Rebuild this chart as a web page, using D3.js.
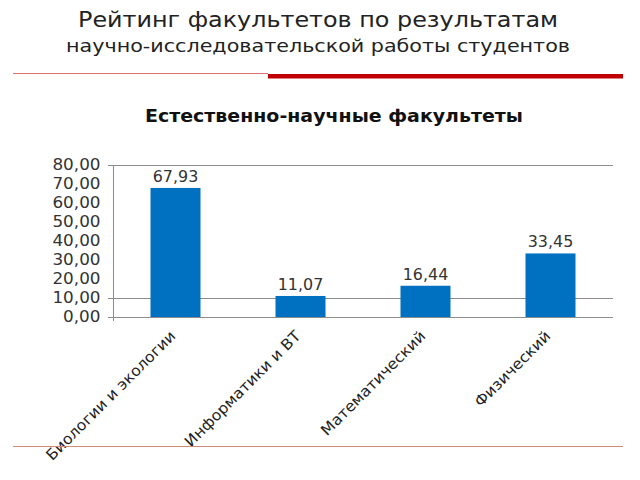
<!DOCTYPE html>
<html>
<head>
<meta charset="utf-8">
<script src="https://cdn.jsdelivr.net/npm/d3@7"></script>
<style>
  body { margin: 0; background: #fff; }
  text { font-family: "DejaVu Sans", Verdana, sans-serif; }
</style>
</head>
<body>
<div class="chart"></div>
<script>
const faculties = ["Биологии и экологии", "Информатики и ВТ", "Математический", "Физический"];
const scores = [67.93, 11.07, 16.44, 33.45];
const yTicks = [0, 10, 20, 30, 40, 50, 60, 70, 80];
const gridValues = [0, 10, 80];

const w = 640;
const h = 480;
const fmt = v => d3.format(".2f")(v).replace(".", ",");

// the original font is a bit wider than DejaVu
const stretch = k => function() {
    d3.select(this)
        .attr("textLength", this.getComputedTextLength() * k)
        .attr("lengthAdjust", "spacingAndGlyphs");
};

const svg = d3.select(".chart")
    .append("svg")
    .attr("width", w)
    .attr("height", h);

// header
svg.append("text")
    .attr("x", 318).attr("y", 27)
    .attr("text-anchor", "middle")
    .attr("font-size", 21)
    .attr("fill", "#222")
    .attr("textLength", 480).attr("lengthAdjust", "spacingAndGlyphs")
    .text("Рейтинг факультетов по результатам");

svg.append("text")
    .attr("x", 318).attr("y", 52)
    .attr("text-anchor", "middle")
    .attr("font-size", 18)
    .attr("fill", "#222")
    .attr("textLength", 504).attr("lengthAdjust", "spacingAndGlyphs")
    .text("научно-исследовательской работы студентов");

svg.append("line")
    .attr("x1", 13).attr("x2", 268)
    .attr("y1", 73.5).attr("y2", 73.5)
    .attr("stroke", "#e07070").attr("stroke-width", 1);
svg.append("rect")
    .attr("x", 268).attr("y", 74)
    .attr("width", 355).attr("height", 4.5)
    .attr("fill", "#c00000");

svg.append("text")
    .attr("x", 334).attr("y", 122)
    .attr("text-anchor", "middle")
    .attr("font-size", 17)
    .attr("font-weight", "bold")
    .attr("fill", "#111")
    .attr("textLength", 378).attr("lengthAdjust", "spacingAndGlyphs")
    .text("Естественно-научные факультеты");

// scales
const x = d3.scaleBand()
    .domain(faculties)
    .range([113, 613])
    .paddingInner(0.6)
    .paddingOuter(0.3);

const y = d3.scaleLinear()
    .domain([0, 80])
    .range([317, 165]);

// grid
svg.selectAll("line.grid")
    .data(gridValues)
    .enter()
    .append("line")
    .attr("class", "grid")
    .attr("x1", 108).attr("x2", 613)
    .attr("y1", d => y(d) + 0.5).attr("y2", d => y(d) + 0.5)
    .attr("stroke", "#8c8c8c").attr("stroke-width", 1);

// y axis
const yAxis = d3.axisLeft(y)
    .tickValues(yTicks)
    .tickSize(0)
    .tickPadding(13)
    .tickFormat(fmt);

const yAxisG = svg.append("g")
    .attr("transform", "translate(113.5,0)")
    .call(yAxis);
yAxisG.select(".domain")
    .attr("stroke", "#8c8c8c")
    .attr("d", `M0,${y(80)}V${y(0) + 4}`);
yAxisG.selectAll("text")
    .attr("font-size", 15)
    .attr("fill", "#333")
    .attr("font-family", "DejaVu Sans, Verdana, sans-serif")
    .each(stretch(1.12));

// bars
svg.selectAll("rect.bar")
    .data(scores)
    .enter()
    .append("rect")
    .attr("class", "bar")
    .attr("x", (d, i) => x(faculties[i]))
    .attr("y", d => y(d))
    .attr("width", x.bandwidth())
    .attr("height", d => y(0) - y(d))
    .attr("fill", "#0070c0");

svg.selectAll("text.val")
    .data(scores)
    .enter()
    .append("text")
    .attr("class", "val")
    .attr("x", (d, i) => x(faculties[i]) + x.bandwidth() / 2)
    .attr("y", d => y(d) - 6)
    .attr("text-anchor", "middle")
    .attr("font-size", 15)
    .attr("fill", "#333")
    .text(fmt)
    .each(stretch(1.06));

// category labels
svg.selectAll("text.cat")
    .data(faculties)
    .enter()
    .append("text")
    .attr("class", "cat")
    .attr("text-anchor", "end")
    .attr("font-size", 15)
    .attr("fill", "#222")
    .attr("transform", d => `translate(${x(d) + x.bandwidth() / 2 + 1},${337}) rotate(-45)`)
    .text(d => d)
    .each(stretch(1.05));

// bottom rule
svg.append("line")
    .attr("x1", 13).attr("x2", 623)
    .attr("y1", 446.5).attr("y2", 446.5)
    .attr("stroke", "#d08a7a").attr("stroke-width", 1);
</script>
</body>
</html>
